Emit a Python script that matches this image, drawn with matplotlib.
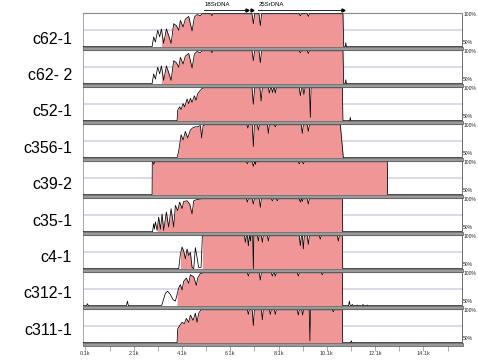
"""VISTA-style conservation plot of rDNA contigs against the reference."""

import matplotlib
matplotlib.use("Agg")
import matplotlib.pyplot as plt
import matplotlib.transforms as mtransforms
from matplotlib.patches import Rectangle
import numpy as np

plt.rcParams["font.family"] = ["Liberation Sans", "DejaVu Sans"]

PINK = "#f09696"
W, H = 478, 360

SAMPLES = ["c62-1", "c62- 2", "c52-1", "c356-1", "c39-2",
           "c35-1", "c4-1", "c312-1", "c311-1"]

# (position bp, % identity)
c62_1 = [(0, 50), (2862, 50), (2928, 65), (2999, 57), (3094, 75), (3177, 65),
         (3247, 77), (3342, 55), (3454, 77), (3549, 67), (3649, 55), (3757, 85),
         (3868, 82), (3964, 75), (4034, 90), (4146, 80), (4241, 92), (4378, 96),
         (4518, 74), (4614, 95), (4725, 99), (4862, 97), (4933, 100), (5300, 100),
         (5340, 97), (5380, 100), (7000, 100), (7057, 85), (7110, 100), (7290, 100),
         (7347, 82), (7400, 100), (8950, 100), (9003, 97), (9050, 100), (9290, 100),
         (9334, 96), (9380, 100), (10770, 100), (10800, 50), (10860, 50),
         (10887, 56), (10910, 50), (15700, 50)]
c62_2 = c62_1
c52_1 = [(0, 50), (3897, 50), (3922, 66), (4005, 71), (4063, 67), (4146, 76),
         (4212, 71), (4311, 83), (4378, 76), (4448, 84), (4518, 78), (4614, 88),
         (4684, 81), (4750, 91), (4833, 95), (4933, 99), (4999, 100), (7000, 100),
         (7057, 75), (7110, 100), (7330, 100), (7378, 80), (7430, 100), (7680, 100),
         (7720, 92), (7770, 100), (7810, 100), (7850, 93), (7900, 100), (7930, 100),
         (7968, 92), (8010, 100), (8960, 100), (9003, 88), (9060, 100), (9110, 100),
         (9150, 90), (9200, 100), (9380, 100), (9417, 55), (9450, 100), (10743, 100),
         (10770, 50), (11050, 50), (11074, 55), (11095, 50), (15700, 50)]
c356_1 = [(0, 50), (3897, 50), (3964, 60), (4063, 85), (4146, 77), (4241, 90),
          (4337, 80), (4448, 92), (4531, 95), (4655, 97), (4750, 97), (4862, 99),
          (4916, 80), (4975, 99), (5069, 100), (6790, 100), (6830, 95), (6870, 100),
          (7010, 100), (7057, 67), (7100, 100), (7220, 100), (7264, 92), (7310, 100),
          (7640, 100), (7678, 87), (7720, 100), (7930, 100), (7968, 97), (8010, 100),
          (9040, 100), (9086, 87), (9130, 100), (9290, 100), (9334, 90), (9380, 100),
          (10660, 100), (10784, 50), (15700, 50)]
c39_2 = [(0, 50), (2862, 50), (2870, 100), (2900, 100), (2936, 96), (2970, 100),
         (6770, 100), (6808, 97), (6850, 100), (7010, 100), (7057, 93), (7100, 100),
         (7120, 100), (7140, 96), (7170, 100), (8920, 100), (8960, 97), (9000, 100),
         (9090, 100), (9130, 97), (9170, 100), (12606, 100), (12620, 50), (15700, 50)]
c35_1 = [(0, 50), (2880, 50), (2928, 62), (2960, 54), (2999, 65), (3069, 52),
         (3135, 72), (3206, 54), (3276, 77), (3342, 52), (3454, 80), (3549, 57),
         (3649, 85), (3757, 57), (3827, 90), (3922, 82), (4005, 95), (4104, 85),
         (4170, 96), (4311, 97), (4419, 92), (4518, 77), (4586, 97), (4725, 99),
         (4933, 100), (6770, 100), (6808, 95), (6850, 100), (7010, 100), (7057, 92),
         (7100, 100), (7300, 100), (7347, 87), (7390, 100), (7800, 100), (7844, 97),
         (7890, 100), (8010, 100), (8051, 97), (8090, 100), (8960, 100), (9003, 95),
         (9040, 100), (9050, 100), (9086, 96), (9120, 100), (9290, 100), (9334, 92),
         (9380, 100), (10743, 100), (10760, 50), (15700, 50)]
c4_1 = [(0, 50), (3964, 50), (4034, 72), (4104, 83), (4170, 77), (4241, 65),
        (4311, 80), (4378, 70), (4448, 75), (4518, 52), (4586, 50), (4655, 82),
        (4725, 67), (4792, 52), (4891, 52), (4945, 100), (6690, 100), (6726, 90),
        (6770, 100), (6810, 100), (6850, 85), (6890, 100), (6910, 100), (6933, 92),
        (6960, 100), (7030, 100), (7057, 50), (7080, 100), (7230, 100), (7264, 92),
        (7300, 100), (7390, 100), (7430, 90), (7470, 100), (7640, 100), (7678, 92),
        (7720, 100), (8960, 100), (9003, 85), (9050, 100), (9090, 100), (9127, 80),
        (9170, 100), (9290, 100), (9334, 87), (9380, 100), (9790, 100), (9831, 95),
        (9870, 100), (10540, 100), (10577, 92), (10620, 100), (10743, 100),
        (10760, 50), (15700, 50)]
c312_1 = [(0, 50), (150, 50), (183, 53), (220, 50), (1800, 50), (1839, 57),
          (1880, 50), (3240, 50), (3276, 52), (3413, 69), (3508, 72), (3620, 67),
          (3732, 59), (3827, 57), (3897, 67), (3964, 77), (4034, 82), (4104, 74),
          (4170, 87), (4282, 92), (4378, 84), (4448, 97), (4586, 94), (4696, 81),
          (4750, 92), (4862, 99), (4999, 100), (6810, 100), (6850, 95), (6890, 100),
          (7300, 100), (7347, 89), (7390, 100), (7800, 100), (7844, 95), (7890, 100),
          (7930, 100), (7968, 95), (8010, 100), (8880, 100), (8920, 95), (8960, 100),
          (9870, 100), (9914, 97), (9950, 100), (10743, 100), (10760, 50),
          (11000, 50), (11032, 57), (11070, 50), (11130, 50), (11156, 52),
          (11190, 50), (11330, 50), (11363, 51), (11400, 50), (11570, 50),
          (11600, 52), (11630, 50), (11750, 50), (11777, 51), (11800, 50), (15700, 50)]
c311_1 = [(0, 50), (3897, 50), (3922, 71), (4005, 76), (4104, 81), (4199, 79),
          (4282, 87), (4378, 81), (4448, 92), (4560, 84), (4655, 95), (4725, 81),
          (4792, 95), (4891, 100), (6810, 100), (6850, 93), (6890, 100), (7010, 100),
          (7057, 76), (7100, 100), (7390, 100), (7430, 85), (7470, 100), (7720, 100),
          (7761, 93), (7800, 100), (7930, 100), (7968, 93), (8010, 100), (8880, 100),
          (8920, 92), (8960, 100), (9060, 100), (9100, 92), (9140, 100), (9370, 100),
          (9400, 53), (9430, 100), (10330, 100), (10370, 97), (10410, 100),
          (10743, 100), (10760, 50), (11090, 50), (11115, 53), (11140, 50), (15700, 50)]

PROFILES = [c62_1, c62_2, c52_1, c356_1, c39_2, c35_1, c4_1, c312_1, c311_1]

# conserved (coloured) stretches per sample
FILLS = [[(3247, 10770)], [(3247, 10770)], [(3897, 10743)], [(3897, 10784)],
         [(2862, 12606)], [(3069, 10743)], [(4034, 4518), (4945, 10743)],
         [(3897, 10743)], [(3897, 10743)]]

GENE_LABELS = ["18SrDNA", "", "25SrDNA"]
GENE_START = [5028, 7015, 7263]
GENE_END = [6808, 7015, 10783]

TICK_POS = list(range(100, 15101, 1000))
TICK_LABELS = [f"{p / 1000:.1f}k" if (p - 100) % 2000 == 0 else "" for p in TICK_POS]

fig = plt.figure(figsize=(W / 100, H / 100), dpi=100)

left, right = 83, 462
top0, pitch, ph, band = 13.3, 37.0, 33.4, 3.6
axes = []
for i, (name, prof, fills) in enumerate(zip(SAMPLES, PROFILES, FILLS)):
    t = top0 + i * pitch
    ax = fig.add_axes([left / W, 1 - (t + ph) / H, (right - left) / W, ph / H])
    axes.append(ax)
    x = np.array([p for p, _ in prof], dtype=float)
    y = np.array([v for _, v in prof], dtype=float)
    ax.axhline(75, color="#cfcfe4", lw=1.1, zorder=1)
    for a, b in fills:
        m = (x >= a) & (x <= b)
        ax.fill_between(x[m], y[m], 50, color=PINK, lw=0, zorder=2)
    ax.plot(x, y, color="black", lw=0.55, zorder=3)
    ax.set_xlim(0, 15700)
    ax.set_ylim(50, 100.8)
    ax.set_yticks([])
    ax.spines["top"].set_color("#888888")
    ax.spines["top"].set_linewidth(0.8)
    ax.spines["left"].set_color("#999999")
    ax.spines["left"].set_linewidth(0.6)
    ax.spines["right"].set_color("#555555")
    ax.spines["right"].set_linewidth(0.6)
    ax.spines["bottom"].set_visible(False)
    ax.text(1.003, 0.95, "100%", transform=ax.transAxes, fontsize=3.6,
            ha="left", va="center", color="#222222")
    ax.text(1.003, 0.12, "50%", transform=ax.transAxes, fontsize=3.6,
            ha="left", va="center", color="#222222")
    if i < len(SAMPLES) - 1:
        ax.set_xticks([])
    else:
        ax.set_xticks(TICK_POS)
        ax.set_xticklabels(TICK_LABELS, fontsize=4, color="#333333")
        ax.tick_params(axis="x", length=5.5, width=0.5, color="#888888", pad=0.6)
    # grey separator band under each panel
    fig.patches.append(Rectangle((left / W, 1 - (t + ph + band) / H),
                                 (right - left + 1) / W, band / H,
                                 transform=fig.transFigure, facecolor="#9a9a9a",
                                 edgecolor="#555555", lw=0.5, zorder=5))
    fig.text(72 / W, 1 - (43.5 + 36.4 * i) / H, name, ha="right", va="baseline",
             fontsize=11.5, color="black")

# gene annotation above the first panel
ax0 = axes[0]
tr = mtransforms.blended_transform_factory(ax0.transData, fig.transFigure)
yl = 1 - 10 / H
for lab, s, e in zip(GENE_LABELS, GENE_START, GENE_END):
    if e > s:
        ax0.plot([s, e], [yl, yl], color="black", lw=0.6, transform=tr, clip_on=False)
    ax0.plot([e], [yl], marker=">", ms=2.2, color="black", transform=tr, clip_on=False)
    if lab:
        ax0.text(s, 1 - 5.8 / H, lab, transform=tr, fontsize=4.3,
                 ha="left", va="baseline", color="black")

fig.savefig("out.png", dpi=100)
